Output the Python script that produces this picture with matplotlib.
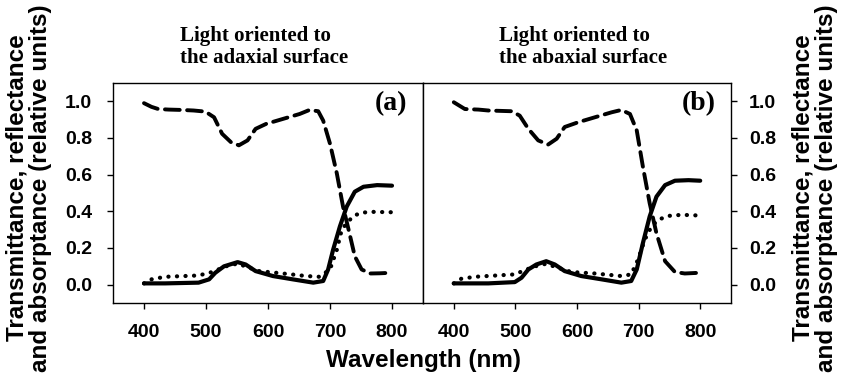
import matplotlib.pyplot as plt
import numpy as np

# ---- data (wavelength in nm, relative units) ----
# panel (a): light oriented to the adaxial surface
wl_abs_a = [400, 412, 423, 440, 461, 480, 499, 513, 526, 540, 553, 567, 580, 597,
            624, 651, 667, 681, 689, 700, 711, 721, 730, 740, 751, 765, 780, 800]
abs_a = [0.99, 0.97, 0.958, 0.955, 0.953, 0.95, 0.944, 0.913, 0.823, 0.778, 0.76, 0.787,
         0.85, 0.877, 0.904, 0.931, 0.953, 0.946, 0.895, 0.769, 0.607, 0.426, 0.30,
         0.155, 0.083, 0.061, 0.062, 0.065]
wl_tra_a = [400, 434, 488, 505, 515, 529, 551, 564, 580, 608, 640, 673, 689, 697,
            705, 716, 727, 740, 754, 776, 800]
tra_a = [0.007, 0.007, 0.011, 0.029, 0.065, 0.10, 0.123, 0.11, 0.074, 0.047, 0.029,
         0.011, 0.02, 0.083, 0.19, 0.318, 0.426, 0.507, 0.534, 0.543, 0.54]
wl_ref_a = [400, 412, 434, 488, 510, 532, 551, 570, 586, 624, 662, 683, 700, 711,
            719, 727, 738, 751, 770, 800]
ref_a = [0.007, 0.029, 0.043, 0.05, 0.069, 0.10, 0.115, 0.092, 0.074, 0.061, 0.047,
         0.043, 0.083, 0.19, 0.30, 0.336, 0.375, 0.393, 0.397, 0.395]

# panel (b): light oriented to the abaxial surface
wl_abs_b = [400, 418, 440, 456, 494, 507, 521, 537, 553, 567, 580, 602, 629, 656,
            672, 686, 697, 707, 718, 729, 743, 759, 775, 800]
abs_b = [0.995, 0.958, 0.955, 0.95, 0.946, 0.922, 0.85, 0.787, 0.764, 0.796, 0.86,
         0.886, 0.913, 0.94, 0.953, 0.931, 0.841, 0.643, 0.444, 0.28, 0.128, 0.069,
         0.061, 0.065]
wl_tra_b = [400, 456, 499, 510, 521, 534, 550, 564, 580, 607, 640, 672, 688, 697,
            707, 718, 729, 743, 759, 781, 800]
tra_b = [0.007, 0.007, 0.014, 0.038, 0.083, 0.11, 0.128, 0.11, 0.074, 0.047, 0.029,
         0.011, 0.02, 0.083, 0.227, 0.372, 0.48, 0.543, 0.567, 0.57, 0.567]
wl_ref_b = [400, 412, 434, 499, 515, 532, 550, 569, 591, 629, 672, 688, 699, 710,
            721, 732, 748, 770, 800]
ref_b = [0.007, 0.032, 0.043, 0.056, 0.079, 0.10, 0.114, 0.092, 0.069, 0.061, 0.047,
         0.056, 0.137, 0.245, 0.318, 0.354, 0.375, 0.381, 0.377]

xticks = [400, 500, 600, 700, 800]
yticks = [0.0, 0.2, 0.4, 0.6, 0.8, 1.0]
titles = ['Light oriented to\nthe adaxial surface', 'Light oriented to\nthe abaxial surface']
panel_tags = ['(a)', '(b)']
ylab = 'Transmittance, reflectance\nand absorptance (relative units)'

sans = 'Liberation Sans'
serif = 'Liberation Serif'

plt.rcParams['font.family'] = sans
plt.rcParams['font.weight'] = 'bold'
plt.rcParams['font.size'] = 14


def draw_panel(ax, wl_abs, ab, wl_tra, tr, wl_ref, rf, tag):
    ax.plot(wl_abs, ab, color='black', lw=2.8, linestyle=(0, (3.8, 1.9)),
            dash_capstyle='round', solid_joinstyle='round')
    ax.plot(wl_tra, tr, color='black', lw=3.0, solid_capstyle='round',
            solid_joinstyle='round')
    ax.plot(wl_ref, rf, color='black', lw=3.0, linestyle=(0, (0.05, 2.0)),
            dash_capstyle='round')
    ax.set_xlim(350, 850)
    ax.set_ylim(-0.1, 1.1)
    ax.set_xticks(xticks)
    ax.set_yticks(yticks)
    ax.set_yticklabels(['%.1f' % v for v in yticks])
    for s in ax.spines.values():
        s.set_linewidth(1.0)
    ax.tick_params(direction='out', length=4, width=1, labelsize=14)
    ax.tick_params(axis='x', pad=11)
    ax.text(0.95, 0.905, tag, transform=ax.transAxes, ha='right', va='center',
            fontfamily=serif, fontweight='bold', fontsize=20)


fig = plt.figure(figsize=(8.43, 3.77), dpi=100)
W, H = 843, 377
ax1 = fig.add_axes([113 / W, 1 - 303 / H, 310 / W, 220 / H])
ax2 = fig.add_axes([423 / W, 1 - 303 / H, 308 / W, 220 / H])

draw_panel(ax1, wl_abs_a, abs_a, wl_tra_a, tra_a, wl_ref_a, ref_a, panel_tags[0])
draw_panel(ax2, wl_abs_b, abs_b, wl_tra_b, tra_b, wl_ref_b, ref_b, panel_tags[1])

ax1.tick_params(axis='y', pad=11)
ax2.yaxis.tick_right()
ax2.tick_params(axis='y', pad=9)

# titles above each panel
fig.text(180 / W, 1 - 47 / H, titles[0], ha='left', va='center', fontfamily=serif,
         fontweight='bold', fontsize=15, linespacing=1.15)
fig.text(499 / W, 1 - 47 / H, titles[1], ha='left', va='center', fontfamily=serif,
         fontweight='bold', fontsize=15, linespacing=1.15)

# axis labels
fig.text(29 / W, 1 - 188 / H, ylab, rotation=90, ha='center', va='center',
         multialignment='center', fontsize=17.5, linespacing=1.05)
fig.text(815 / W, 1 - 188 / H, ylab, rotation=90, ha='center', va='center',
         multialignment='center', fontsize=17.5, linespacing=1.05)
fig.text(423 / W, 1 - 360 / H, 'Wavelength (nm)', ha='center', va='center',
         fontsize=17.5)

fig.savefig('out.png', dpi=100)
